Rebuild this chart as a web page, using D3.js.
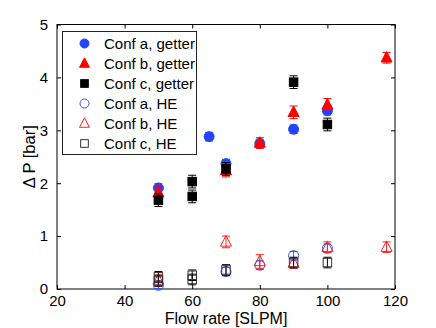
<!DOCTYPE html>
<html><head><meta charset="utf-8">
<script src="https://cdn.jsdelivr.net/npm/d3@7"></script>
<style>body{margin:0;background:#fff;} text{font-family:"Liberation Sans",Arial,sans-serif;}</style>
</head><body><svg id="c" width="436" height="328"></svg>
<script>
// ---- data ----
const aGetterX = [50, 65, 70, 80, 90, 100];
const aGetterY = [1.91, 2.88, 2.37, 2.75, 3.02, 3.37];
const aGetterE = [0.08, 0.08, 0.08, 0.08, 0.08, 0.08];
const bGetterX = [50, 70, 80, 90, 100, 117.5];
const bGetterY = [1.82, 2.24, 2.76, 3.34, 3.48, 4.37];
const bGetterE = [0.12, 0.12, 0.1, 0.12, 0.12, 0.1];
const cGetterX = [50, 60, 60, 70, 90, 100];
const cGetterY = [1.68, 2.03, 1.75, 2.27, 3.91, 3.11];
const cGetterE = [0.12, 0.12, 0.12, 0.12, 0.12, 0.12];
const aHEX = [50, 70, 80, 90, 100];
const aHEY = [0.07, 0.33, 0.45, 0.63, 0.77];
const aHEE = [0.06, 0.08, 0.08, 0.08, 0.08];
const bHEX = [50, 70, 80, 90, 100, 117.5];
const bHEY = [0.17, 0.89, 0.52, 0.49, 0.79, 0.79];
const bHEE = [0.1, 0.11, 0.13, 0.1, 0.1, 0.1];
const cHEX = [50, 50, 60, 60, 70, 90, 100];
const cHEY = [0.15, 0.23, 0.18, 0.26, 0.36, 0.5, 0.5];
const cHEE = [0.1, 0.1, 0.1, 0.1, 0.1, 0.1, 0.1];
const xTicks = [20, 40, 60, 80, 100, 120];
const yTicks = [0, 1, 2, 3, 4, 5];
const legendLabels = ["Conf a, getter", "Conf b, getter", "Conf c, getter", "Conf a, HE", "Conf b, HE", "Conf c, HE"];

const series = [
  {x: aGetterX, y: aGetterY, e: aGetterE, shape: "circle", fill: "#2244ff", stroke: "#2244ff", ebar: "#2244ff"},
  {x: bGetterX, y: bGetterY, e: bGetterE, shape: "triangle", fill: "#ff0000", stroke: "#ff0000", ebar: "#ff0000"},
  {x: cGetterX, y: cGetterY, e: cGetterE, shape: "square", fill: "#000", stroke: "#000", ebar: "#000"},
  {x: aHEX, y: aHEY, e: aHEE, shape: "circle", fill: "none", stroke: "#3355ff", ebar: "#3355ff"},
  {x: bHEX, y: bHEY, e: bHEE, shape: "triangle", fill: "none", stroke: "#ff2222", ebar: "#ff2222"},
  {x: cHEX, y: cHEY, e: cHEE, shape: "square", fill: "none", stroke: "#333", ebar: "#000"}
];

const L = 57, R = 395, T = 24.5, B = 289;
const svg = d3.select("#c");
const x = d3.scaleLinear().domain([20, 120]).range([L, R]);
const y = d3.scaleLinear().domain([0, 5]).range([B, T]);

// box
svg.append("rect").attr("x", L).attr("y", T).attr("width", R - L).attr("height", B - T)
  .attr("fill", "#fff").attr("stroke", "#000").attr("stroke-width", 1);

// axes with inward ticks
const gx = svg.append("g").attr("transform", `translate(0,${B})`)
  .call(d3.axisBottom(x).tickValues(xTicks).tickSizeInner(-4).tickSizeOuter(0).tickPadding(6).tickFormat(d3.format("d")));
const gxt = svg.append("g").attr("transform", `translate(0,${T})`)
  .call(d3.axisTop(x).tickValues(xTicks).tickSizeInner(-4).tickSizeOuter(0).tickFormat(""));
const gy = svg.append("g").attr("transform", `translate(${L},0)`)
  .call(d3.axisLeft(y).tickValues(yTicks).tickSizeInner(-4).tickSizeOuter(0).tickPadding(9).tickFormat(d3.format("d")));
const gyr = svg.append("g").attr("transform", `translate(${R},0)`)
  .call(d3.axisRight(y).tickValues(yTicks).tickSizeInner(-4).tickSizeOuter(0).tickFormat(""));
[gx, gxt, gy, gyr].forEach(g => {
  g.select(".domain").remove();
  g.selectAll("line").attr("stroke", "#000");
  g.selectAll("text").attr("font-size", 15).attr("fill", "#000");
});

// axis labels
svg.append("text").attr("x", (L + R) / 2).attr("y", 324).attr("text-anchor", "middle")
  .attr("font-size", 16).text("Flow rate [SLPM]");
svg.append("text").attr("transform", `translate(35,${(T + B) / 2}) rotate(-90)`)
  .attr("text-anchor", "middle").attr("font-size", 16.5).text("Δ P [bar]");

function marker(g, shape, cx, cy, size, fill, stroke) {
  if (shape === "circle") {
    g.append("circle").attr("cx", cx).attr("cy", cy).attr("r", size / 2)
      .attr("fill", fill).attr("stroke", stroke).attr("stroke-width", 1);
  } else if (shape === "square") {
    const s = size * 0.85;
    g.append("rect").attr("x", cx - s / 2).attr("y", cy - s / 2).attr("width", s).attr("height", s)
      .attr("fill", fill).attr("stroke", stroke).attr("stroke-width", 1);
  } else {
    const h = size * 1.05, w = size * 1.1;
    g.append("path").attr("d", `M${cx},${cy - h * 0.6}L${cx + w / 2},${cy + h * 0.4}L${cx - w / 2},${cy + h * 0.4}Z`)
      .attr("fill", fill).attr("stroke", stroke).attr("stroke-width", 1);
  }
}

const plot = svg.append("g");
series.forEach(s => {
  const g = plot.append("g");
  s.x.forEach((xv, i) => {
    const cx = x(xv), y0 = y(s.y[i] - s.e[i]), y1 = y(s.y[i] + s.e[i]);
    g.append("line").attr("x1", cx).attr("x2", cx).attr("y1", y0).attr("y2", y1).attr("stroke", s.ebar);
    g.append("line").attr("x1", cx - 4).attr("x2", cx + 4).attr("y1", y0).attr("y2", y0).attr("stroke", s.ebar);
    g.append("line").attr("x1", cx - 4).attr("x2", cx + 4).attr("y1", y1).attr("y2", y1).attr("stroke", s.ebar);
    marker(g, s.shape, cx, y(s.y[i]), 10, s.fill, s.stroke);
  });
});

// legend
const lg = svg.append("g");
lg.append("rect").attr("x", 62.5).attr("y", 31.5).attr("width", 134).attr("height", 123)
  .attr("fill", "#fff").attr("stroke", "#222").attr("stroke-width", 1);
legendLabels.forEach((lab, i) => {
  const cy = 43.5 + i * 20;
  const s = series[i];
  marker(lg, s.shape, 84.5, cy, 9, s.fill, s.stroke);
  lg.append("text").attr("x", 104).attr("y", cy + 5.5).attr("font-size", 15).text(lab);
});
</script></body></html>
